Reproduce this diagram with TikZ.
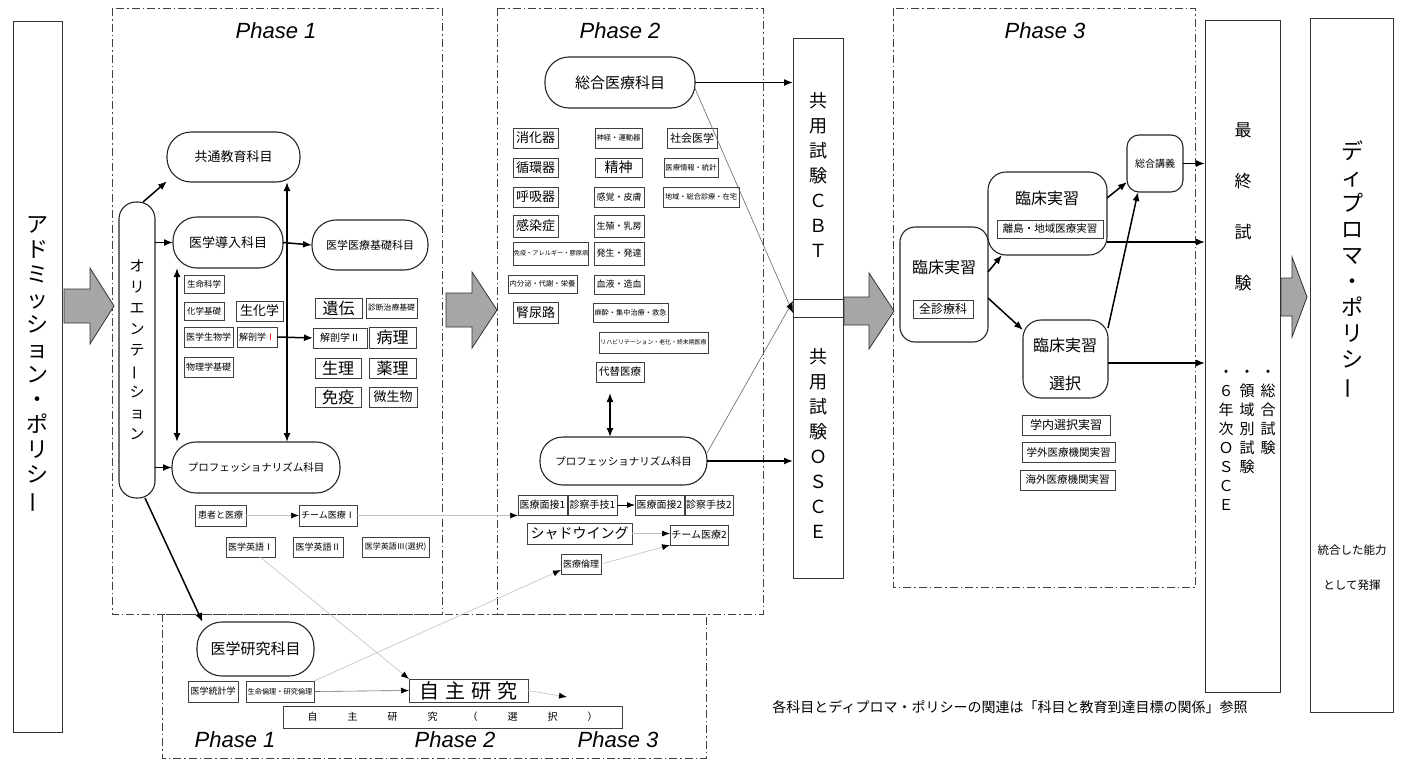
\documentclass[tikz,border=0pt]{standalone}
\usepackage{fontspec}
\setmainfont{Noto Sans CJK JP}
\newfontfamily\phasefont{Liberation Sans}
\usepackage{graphicx}
\usetikzlibrary{arrows.meta,calc}
\newcommand\fs[1]{\fontsize{#1}{#1}\selectfont}
\newcommand\cho{\rotatebox[origin=c]{90}{ー}}
\tikzset{
 every node/.style={inner sep=0.5pt, outer sep=0pt},
 sbox/.style={draw=black!75, line width=0.7pt, fill=white},
 pill/.style={draw=black!85, line width=1.1pt, fill=white, rounded corners=#1},
 bigbox/.style={draw=black!80, line width=1pt, fill=white},
 phasebox/.style={draw=black!75, line width=0.9pt, dash pattern=on 8pt off 3pt on 1.5pt off 3pt},
 arr/.style={-{Latex[length=9pt,width=7pt]}, line width=1.5pt, black},
 darr/.style={{Latex[length=9pt,width=7pt]}-{Latex[length=9pt,width=7pt]}, line width=1.5pt, black},
 garr/.style={-{Latex[length=8pt,width=6pt,color=black]}, line width=0.6pt, black!60},
 lgarr/.style={-{Latex[length=8pt,width=6pt,color=black]}, line width=0.6pt, black!25},
 fat/.style={draw=black!80, line width=0.8pt, fill=black!35},
 phaset/.style={font=\phasefont\itshape\fontsize{22}{22}\selectfont},
 vtext/.style={align=center},
}
\newcommand\sbx[7]{\node[sbox, minimum width={#4pt-#2pt}, minimum height={#5pt-#3pt}, font=\fs{#6}] (#1) at ({(#2+#4)/2},{(#3+#5)/2}) {#7};}
\newcommand\pbx[8]{\node[pill=#6, minimum width={#4pt-#2pt}, minimum height={#5pt-#3pt}, font=\fs{#7}] (#1) at ({(#2+#4)/2},{(#3+#5)/2}) {#8};}
\newcommand\bbx[5]{\node[bigbox, minimum width={#4pt-#2pt}, minimum height={#5pt-#3pt}] (#1) at ({(#2+#4)/2},{(#3+#5)/2}) {};}
\newcommand\fatarr[6]{\draw[fat] (#1,{#4-#5}) -- (#2,{#4-#5}) -- (#2,{#4-#6}) -- (#3,#4) -- (#2,{#4+#6}) -- (#2,{#4+#5}) -- (#1,{#4+#5}) -- cycle;}
\begin{document}
\begin{tikzpicture}[x=1pt,y=-1pt]
\useasboundingbox[fill=white] (0,0) rectangle (1401,763);

% ---------- phase frames ----------
\draw[phasebox] (112,8) rectangle (442,614);
\draw[phasebox] (497,8) rectangle (763,614);
\draw[phasebox] (893,8) rectangle (1195,587);
\draw[phasebox] (162,614) rectangle (706,758);
\node[phaset] (ph1) at (276,31) {Phase 1};
\node[phaset] (ph2) at (620,31) {Phase 2};
\node[phaset] (ph3) at (1045,31) {Phase 3};
\node[phaset] (rph1) at (235,740) {Phase 1};
\node[phaset] (rph2) at (455,740) {Phase 2};
\node[phaset] (rph3) at (618,740) {Phase 3};

% ---------- big columns ----------
\bbx{adm}{13}{21}{62}{732}
\node[vtext, font=\fontsize{22}{25}\selectfont] (admt) at (37,365) {ア\\ド\\ミ\\ッ\\シ\\ョ\\ン\\・\\ポ\\リ\\シ\\\cho};
\bbx{cbt}{793}{38}{843}{299}
\node[draw=black!80, line width=1pt, fill=white, minimum width=50pt, minimum height=18pt] (gap) at (818,308) {};
\bbx{osce}{793}{317}{843}{578}
\node[vtext, font=\fontsize{18}{25}\selectfont] (cbtt) at (818,175) {共\\用\\試\\験\\Ｃ\\Ｂ\\Ｔ};
\node[vtext, font=\fontsize{18}{25}\selectfont] (oscet) at (818,444) {共\\用\\試\\験\\Ｏ\\Ｓ\\Ｃ\\Ｅ};
\bbx{final}{1205}{20}{1280}{692}
\node[vtext, font=\fontsize{17}{51}\selectfont] (finalt) at (1243,207) {最\\終\\試\\験};
\node[vtext, anchor=north, font=\fontsize{15}{19}\selectfont] (f1) at (1268,370) {・\\総\\合\\試\\験};
\node[vtext, anchor=north, font=\fontsize{15}{19}\selectfont] (f2) at (1247,370) {・\\領\\域\\別\\試\\験};
\node[vtext, anchor=north, font=\fontsize{15}{19}\selectfont] (f3) at (1226,370) {・\\６\\年\\次\\Ｏ\\Ｓ\\Ｃ\\Ｅ};
\bbx{dip}{1310}{18}{1393}{712}
\node[vtext, anchor=north, font=\fontsize{22}{26}\selectfont] (dipt) at (1352,140) {デ\\ィ\\プ\\ロ\\マ\\・\\ポ\\リ\\シ\\\cho};
\node[font=\fs{11.5}] (dip2) at (1352,550) {統合した能力};
\node[font=\fs{11.5}] (dip3) at (1352,585) {として発揮};

% ---------- fat arrows ----------
\fatarr{64}{90}{114}{306}{17}{38}
\fatarr{446}{472}{497}{310}{17}{38}
\fatarr{844}{869}{894}{311}{14}{38}
\fatarr{1281}{1292}{1307}{297}{19}{40}

% ---------- Phase 1 ----------
\pbx{kyotsu}{167}{132}{300}{182}{24}{13}{共通教育科目}
\pbx{orient}{119}{202}{155}{498}{17}{13}{}
\node[vtext, font=\fontsize{15}{21}\selectfont] (orientt) at (137,350) {オ\\リ\\エ\\ン\\テ\\\cho\\シ\\ョ\\ン};
\pbx{dounyu}{173}{217}{283}{268}{24}{13}{医学導入科目}
\pbx{kiso}{312}{220}{428}{270}{24}{11}{医学医療基礎科目}
\pbx{prof1}{172}{442}{340}{493}{24}{10.5}{プロフェッショナリズム科目}

\sbx{seimeikagaku}{184}{275}{224}{293}{8.5}{生命科学}
\sbx{kagakukiso}{184}{302}{224}{320}{8.5}{化学基礎}
\sbx{seikagaku}{236}{301}{283}{321}{13}{生化学}
\sbx{igakuseibutsu}{184}{327}{233}{347}{9}{医学生物学}
\sbx{kaibou1}{237}{327}{277}{347}{9}{解剖学{\color{red}Ⅰ}}
\sbx{butsuri}{184}{357}{233}{377}{9}{物理学基礎}
\sbx{iden}{315}{298}{362}{318}{16}{遺伝}
\sbx{shindan}{366}{298}{417}{318}{7.8}{診断治療基礎}
\sbx{kaibou2}{313}{328}{367}{348}{10}{解剖学Ⅱ}
\sbx{byouri}{369}{327}{416}{348}{16}{病理}
\sbx{seiri}{315}{358}{361}{378}{16}{生理}
\sbx{yakuri}{369}{358}{416}{378}{16}{薬理}
\sbx{meneki}{315}{387}{361}{407}{16}{免疫}
\sbx{biseibutsu}{369}{387}{417}{407}{13}{微生物}
\sbx{kanja}{195}{505}{246}{526}{9}{患者と医療}
\sbx{team1}{299}{505}{357}{526}{9}{チーム医療Ⅰ}
\sbx{eigo1}{226}{537}{275}{557}{9}{医学英語Ⅰ}
\sbx{eigo2}{293}{537}{343}{557}{9}{医学英語Ⅱ}
\sbx{eigo3}{362}{537}{429}{557}{8}{医学英語Ⅲ(選択)}

% ---------- Phase 2 ----------
\pbx{sogo}{545}{57}{695}{108}{24}{15}{総合医療科目}
\pbx{prof2}{540}{437}{707}{485}{23}{10.5}{プロフェッショナリズム科目}
\sbx{shoukaki}{513}{128}{558}{148}{13}{消化器}
\sbx{junkanki}{513}{158}{558}{177}{13}{循環器}
\sbx{kokyuki}{513}{187}{558}{207}{13}{呼吸器}
\sbx{kansen}{513}{215}{558}{237}{13}{感染症}
\sbx{menekiall}{515}{242}{587}{265}{6.2}{免疫・アレルギー・膠原病}
\sbx{naibunpi}{508}{275}{577}{293}{7.3}{内分泌・代謝・栄養}
\sbx{jin}{513}{302}{558}{323}{13}{腎尿路}
\sbx{shinkei}{595}{128}{642}{148}{7.3}{神経・運動器}
\sbx{seishin}{595}{158}{642}{177}{14}{精神}
\sbx{kankaku}{594}{187}{644}{207}{9}{感覚・皮膚}
\sbx{seishoku}{594}{215}{644}{237}{9}{生殖・乳房}
\sbx{hassei}{594}{242}{644}{265}{9}{発生・発達}
\sbx{ketsueki}{594}{275}{644}{294}{9}{血液・造血}
\sbx{masui}{593}{303}{668}{322}{7.2}{麻酔・集中治療・救急}
\sbx{riha}{599}{332}{708}{353}{5.9}{リハビリテーション・老化・終末期医療}
\sbx{daitai}{596}{362}{644}{382}{10.5}{代替医療}
\sbx{shakai}{667}{128}{717}{148}{11}{社会医学}
\sbx{jouhou}{664}{158}{718}{177}{7.3}{医療情報・統計}
\sbx{chiiki}{663}{187}{739}{207}{7.2}{地域・総合診療・在宅}
\sbx{mensetsu1}{518}{495}{567}{515}{10}{医療面接1}
\sbx{shugi1}{568}{495}{617}{515}{10}{診察手技1}
\sbx{mensetsu2}{635}{495}{684}{515}{10}{医療面接2}
\sbx{shugi2}{685}{495}{733}{515}{10}{診察手技2}
\sbx{shadow}{527}{523}{632}{544}{14}{シャドウイング}
\sbx{team2}{670}{525}{728}{545}{10}{チーム医療2}
\sbx{rinri}{561}{554}{601}{574}{9}{医療倫理}

% ---------- research ----------
\pbx{kenkyu}{197}{622}{314}{676}{25}{15}{医学研究科目}
\sbx{toukei}{188}{681}{238}{702}{9}{医学統計学}
\sbx{seimeirinri}{246}{681}{314}{702}{7.2}{生命倫理・研究倫理}
\sbx{jishu}{409}{679}{528}{702}{20}{自\hspace{6pt}主\hspace{6pt}研\hspace{6pt}究}
\sbx{jishusen}{283}{706}{622}{728}{10}{自\hspace{30pt}主\hspace{30pt}研\hspace{30pt}究\hspace{30pt}（\hspace{30pt}選\hspace{30pt}択\hspace{30pt}）}
\coordinate (jend) at (567,697);

% ---------- Phase 3 ----------
\pbx{zen}{900}{227}{988}{342}{15}{16}{}
\node[font=\fs{16}] (zent) at (944,267) {臨床実習};
\sbx{zenshin}{913}{300}{973}{318}{12}{全診療科}
\pbx{ritou}{988}{172}{1107}{255}{18}{16}{}
\node[font=\fs{16}] (ritout) at (1047,198) {臨床実習};
\sbx{ritoujisshu}{997}{220}{1103}{238}{10.5}{離島・地域医療実習}
\pbx{sentaku}{1023}{320}{1108}{398}{18}{16}{}
\node[font=\fs{16}] (sentakut) at (1065,345) {臨床実習};
\node[font=\fs{16}] (sentakut2) at (1065,383) {選択};
\pbx{sogokogi}{1127}{135}{1183}{192}{12}{10}{総合講義}
\sbx{gakunai}{1022}{415}{1110}{435}{12}{学内選択実習}
\sbx{gakugai}{1022}{442}{1115}{462}{10.5}{学外医療機関実習}
\sbx{kaigai}{1020}{470}{1115}{490}{10.5}{海外医療機関実習}

\node[font=\fs{14}] (cap) at (1010,707) {各科目とディプロマ・ポリシーの関連は「科目と教育到達目標の関係」参照};

% ---------- connectors: Phase 1 ----------
\draw[arr] ([xshift=6pt]orient.north) -- (kyotsu.200);
\draw[arr] (orient.east |- dounyu.west) -- (dounyu.west);
\draw[arr] (orient.east |- prof1.west) -- (prof1.west);
\draw[arr] ([xshift=8pt]orient.south) -- (kenkyu.153);
\draw[arr] (dounyu.east) -- (kiso.west);
\draw[arr] (kaibou1.east) -- (kaibou2.west);
\draw[darr] ([xshift=4pt]dounyu.south west) -- ([xshift=5pt]prof1.north west);
\draw[darr] ([xshift=-13pt]kyotsu.south east) -- ([xshift=115pt]prof1.north west);
\draw[lgarr] (kanja.east) -- (team1.west);
\draw[lgarr] (team1.east) -- (team1.east -| mensetsu1.west);
\draw[lgarr] ([xshift=9.5pt]eigo1.south) -- (jishu.north west);

% ---------- connectors: Phase 2 ----------
\draw[arr] (sogo.east) -- (sogo.east -| cbt.west);
\draw[arr] (prof2.east) -- (prof2.east -| osce.west);
\draw[darr] ([xshift=-10pt,yshift=-11pt]daitai.south) -- ([xshift=-13.5pt]prof2.north);
\draw[garr] ([yshift=-6pt]sogo.east) -- ([yshift=-5pt]gap.west);
\draw[garr] ([yshift=8pt]prof2.east) -- ([yshift=7pt]gap.west);
\draw[-{Latex[length=8pt,width=6pt]}, line width=1pt] (shugi1.east) -- (mensetsu2.west);
\draw[lgarr] (shadow.east) -- (shadow.east -| team2.west);
\draw[lgarr] (rinri.east) -- (team2.south west);
\draw[lgarr] (seimeirinri.north east) -- ([yshift=-6pt]rinri.west);

% ---------- connectors: research ----------
\draw[garr] (seimeirinri.east) -- (jishu.west);
\draw[lgarr] (jishu.east) -- (jend);

% ---------- connectors: Phase 3 ----------
\draw[arr] ([yshift=12.5pt]zen.east) -- ([xshift=14pt]ritou.south west);
\draw[arr] ([yshift=-13.5pt]zen.east) -- ([yshift=-10pt]sentaku.north west);
\draw[arr] ([yshift=15.5pt]ritou.east) -- ([yshift=10pt]sogokogi.south west);
\draw[arr] ([yshift=-8pt]sentaku.north east) -- ([xshift=11pt]sogokogi.south west);
\draw[arr] (sogokogi.east) -- (sogokogi.east -| final.west);
\draw[arr] ([yshift=-28.5pt]ritou.east) -- ([yshift=-28.5pt]ritou.east -| final.west);
\draw[arr] ([yshift=-4pt]sentaku.east) -- ([yshift=-4pt]sentaku.east -| final.west);
\end{tikzpicture}
\end{document}
